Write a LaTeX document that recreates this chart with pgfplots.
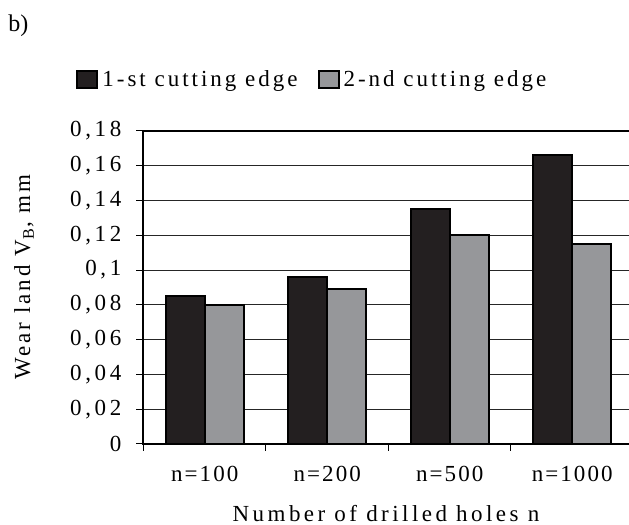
\documentclass[border=0pt]{standalone}
\usepackage{pgfplots}
\pgfplotsset{compat=1.18}
\usepackage{fontspec}
\setmainfont{Liberation Serif}
\newfontfamily\spacedL{Liberation Serif}[LetterSpace=13]
\newfontfamily\spacedX{Liberation Serif}[LetterSpace=15]
\newfontfamily\spacedY{Liberation Serif}[LetterSpace=16]
\newfontfamily\spacedT{Liberation Serif}[LetterSpace=9]
\definecolor{barblack}{HTML}{231F20}
\definecolor{bargray}{HTML}{96979A}
\pgfplotsset{sq legend/.style={legend image code/.code={\draw[##1, line width=1pt] (0pt,-4.25pt) rectangle (10pt,4.25pt);}}}
\begin{document}
\begin{tikzpicture}[x=1pt,y=1pt]
\useasboundingbox (0,0) rectangle (314.5,262.5);
\node[anchor=north west, inner sep=0, font=\fontsize{12}{14}\selectfont] at (4,255.5) {b)};
\node[rotate=90, font=\spacedL\fontsize{11.5}{13}\selectfont] at (12,124) {Wear land V$_{\mathrm{B}}$, mm};
\node[font=\spacedX\fontsize{11.5}{13}\selectfont] at (193,5.5) {Number of drilled holes n};
\begin{axis}[
  at={(71.75pt,40.5pt)}, anchor=south west,
  scale only axis, width=245pt, height=156.5pt,
  xmin=0, xmax=4, ymin=0, ymax=0.18,
  ybar, bar width=0.32,
  xtick={0,1,2,3,4}, x tick label as interval,
  xticklabels={n=100,n=200,n=500,n=1000},
  ytick={0,0.02,0.04,0.06,0.08,0.1,0.12,0.14,0.16,0.18},
  yticklabels={0,{0,02},{0,04},{0,06},{0,08},{0,1},{0,12},{0,14},{0,16},{0,18}},
  xtick pos=bottom, ytick pos=left,
  tick align=outside, major tick length=3.5pt,
  ymajorgrids, grid style={black!85, line width=0.5pt},
  axis line style={line width=1pt},
  tick style={black, line width=0.5pt},
  yticklabel style={font=\spacedY\fontsize{11.5}{13}\selectfont, xshift=-4pt},
  xticklabel style={font=\spacedT\fontsize{11.5}{13}\selectfont, yshift=-4pt},
  legend columns=2,
  legend style={at={(-0.15,1.163)}, anchor=west, draw=none, fill=none,
    font=\spacedL\fontsize{11.5}{13}\selectfont,
    /tikz/every even column/.append style={column sep=8pt}},
]
\addplot[draw=black, line width=1pt, fill=barblack, bar shift=-0.16, sq legend]
  coordinates {(0.5,0.085) (1.5,0.096) (2.5,0.135) (3.5,0.166)};
\addplot[draw=black, line width=1pt, fill=bargray, bar shift=0.16, sq legend]
  coordinates {(0.5,0.08) (1.5,0.089) (2.5,0.12) (3.5,0.115)};
\legend{1-st cutting edge, 2-nd cutting edge}
\end{axis}
\end{tikzpicture}
\end{document}
